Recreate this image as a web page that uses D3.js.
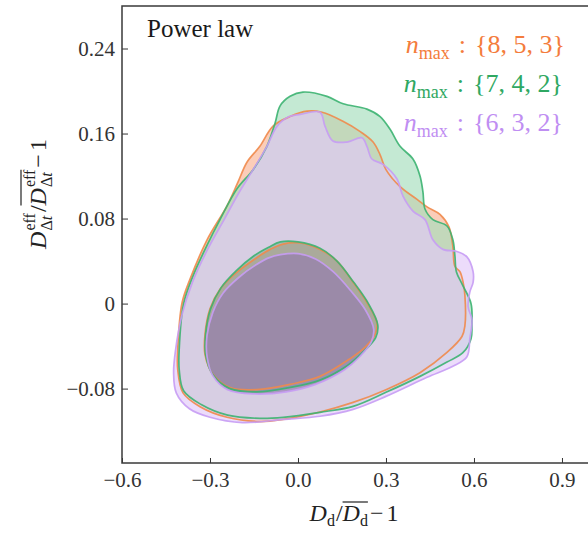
<!DOCTYPE html>
<html>
<head>
<meta charset="utf-8">
<script src="https://cdn.jsdelivr.net/npm/d3@7"></script>
<style>
  html, body { margin: 0; padding: 0; background: #fff; }
  svg { display: block; font-family: "Liberation Serif", "Times New Roman", serif; }
</style>
</head>
<body>
<svg id="chart" width="588" height="534"></svg>
<script>
// ---------------- data ----------------
const xTicks = [-0.6, -0.3, 0.0, 0.3, 0.6, 0.9];
const xTickLabels = ["\u22120.6", "\u22120.3", "0.0", "0.3", "0.6", "0.9"];
const yTicks = [-0.08, 0, 0.08, 0.16, 0.24];
const yTickLabels = ["\u22120.08", "0", "0.08", "0.16", "0.24"];

const seriesNames = ["{8, 5, 3}", "{7, 4, 2}", "{6, 3, 2}"];

// 95% contours (outer) and 68% contours (inner), [x, y] in data units
const orangeOuter = [[-0.027,0.176],[0.031,0.181],[0.082,0.180],[0.15,0.172],[0.211,0.162],[0.256,0.152],[0.28,0.14],[0.30,0.126],[0.348,0.110],[0.406,0.098],[0.44,0.091],[0.484,0.084],[0.515,0.072],[0.528,0.054],[0.535,0.035],[0.552,0.030],[0.563,0.02],[0.569,0.008],[0.569,-0.021],[0.559,-0.031],[0.508,-0.046],[0.416,-0.065],[0.30,-0.081],[0.188,-0.093],[0.075,-0.102],[-0.05,-0.109],[-0.13,-0.111],[-0.242,-0.107],[-0.334,-0.097],[-0.392,-0.084],[-0.41,-0.062],[-0.41,-0.043],[-0.395,0.001],[-0.368,0.023],[-0.31,0.06],[-0.242,0.092],[-0.205,0.114],[-0.174,0.133],[-0.13,0.148],[-0.085,0.167]];
const orangeInner = [[-0.051,0.056],[0.007,0.057],[0.075,0.051],[0.133,0.04],[0.188,0.02],[0.235,0.001],[0.269,-0.018],[0.263,-0.029],[0.229,-0.041],[0.177,-0.052],[0.075,-0.0685],[-0.027,-0.076],[-0.14,-0.081],[-0.232,-0.079],[-0.29,-0.0665],[-0.317,-0.048],[-0.317,-0.029],[-0.3,-0.005],[-0.266,0.0135],[-0.215,0.028],[-0.147,0.042],[-0.095,0.051]];

const greenOuter = [[-0.061,0.186],[-0.027,0.195],[0.017,0.199],[0.099,0.195],[0.154,0.188],[0.235,0.183],[0.28,0.176],[0.314,0.164],[0.348,0.148],[0.392,0.136],[0.416,0.12],[0.426,0.105],[0.433,0.089],[0.46,0.079],[0.508,0.073],[0.528,0.06],[0.535,0.045],[0.54,0.03],[0.56,0.018],[0.59,0.0],[0.593,-0.02],[0.59,-0.033],[0.563,-0.046],[0.508,-0.055],[0.416,-0.0685],[0.30,-0.0835],[0.188,-0.0967],[0.075,-0.1023],[-0.05,-0.107],[-0.13,-0.108],[-0.24,-0.105],[-0.33,-0.095],[-0.39,-0.082],[-0.405,-0.062],[-0.405,-0.043],[-0.39,0.0],[-0.358,0.026],[-0.31,0.055],[-0.266,0.079],[-0.208,0.108],[-0.153,0.126],[-0.106,0.148],[-0.078,0.17]];
const greenInner = [[-0.06,0.058],[0.0,0.058],[0.075,0.052],[0.133,0.04],[0.19,0.02],[0.24,0.0],[0.272,-0.02],[0.265,-0.032],[0.22,-0.046],[0.17,-0.058],[0.075,-0.072],[-0.03,-0.079],[-0.14,-0.083],[-0.232,-0.08],[-0.29,-0.067],[-0.315,-0.048],[-0.315,-0.029],[-0.298,-0.005],[-0.262,0.015],[-0.21,0.031],[-0.15,0.045],[-0.1,0.053]];

const purpleOuter = [[-0.071,0.167],[-0.03,0.176],[0.007,0.178],[0.075,0.18],[0.092,0.167],[0.119,0.153],[0.167,0.152],[0.218,0.156],[0.235,0.148],[0.252,0.136],[0.29,0.131],[0.338,0.117],[0.358,0.101],[0.392,0.087],[0.433,0.079],[0.46,0.06],[0.494,0.051],[0.542,0.049],[0.576,0.044],[0.597,0.030],[0.597,0.02],[0.586,0.011],[0.58,-0.003],[0.593,-0.015],[0.586,-0.033],[0.576,-0.05],[0.528,-0.059],[0.44,-0.0694],[0.30,-0.0873],[0.188,-0.0995],[0.075,-0.106],[-0.05,-0.109],[-0.19,-0.112],[-0.30,-0.107],[-0.37,-0.099],[-0.415,-0.084],[-0.424,-0.065],[-0.418,-0.045],[-0.395,-0.01],[-0.36,0.02],[-0.31,0.05],[-0.25,0.08],[-0.2,0.105],[-0.153,0.126],[-0.106,0.148]];
const purpleInner = [[-0.06,0.046],[0.0,0.047],[0.06,0.042],[0.12,0.03],[0.18,0.012],[0.23,-0.006],[0.258,-0.024],[0.25,-0.036],[0.21,-0.05],[0.16,-0.062],[0.06,-0.076],[-0.04,-0.083],[-0.15,-0.085],[-0.24,-0.081],[-0.29,-0.068],[-0.31,-0.05],[-0.31,-0.03],[-0.29,-0.008],[-0.255,0.01],[-0.2,0.025],[-0.14,0.037],[-0.1,0.043]];

const seriesOuter = [orangeOuter, greenOuter, purpleOuter];
const seriesInner = [orangeInner, greenInner, purpleInner];

// ---------------- styles ----------------
const lineColors = ["#f08a4b", "#3cb371", "#c79cf4"];
const textColors = ["#f47c3c", "#2fa862", "#bf8ef2"];
const outerFill = ["#f9b293", "#a4ddbb", "#e2c9f9"];
const innerFill = ["#f08c5a", "#89ada5", "#9379af"];
const fillOpacity = 0.65;

// ---------------- layout ----------------
const svg = d3.select("#chart");
const x = d3.scaleLinear().domain([-0.6, 1.0]).range([122, 591.3]);
const y = d3.scaleLinear().domain([-0.15, 0.28]).range([463, 6]);

const line = d3.line().x(d => x(d[0])).y(d => y(d[1])).curve(d3.curveCatmullRomClosed.alpha(0.5));

const gOuter = svg.append("g");
const gInner = svg.append("g");
const gLines = svg.append("g");

seriesOuter.forEach((outer, i) => {
  gOuter.append("path")
    .attr("d", line(outer))
    .attr("fill", outerFill[i])
    .attr("fill-opacity", fillOpacity);
  gInner.append("path")
    .attr("d", line(seriesInner[i]))
    .attr("fill", innerFill[i])
    .attr("fill-opacity", fillOpacity);
});
seriesOuter.forEach((outer, i) => {
  [outer, seriesInner[i]].forEach(c => {
    gLines.append("path")
      .attr("d", line(c))
      .attr("fill", "none")
      .attr("stroke", lineColors[i])
      .attr("stroke-width", 1.7)
      .attr("stroke-opacity", 0.9);
  });
});

// axes
const xAxis = d3.axisBottom(x).tickValues(xTicks).tickSize(-5).tickSizeOuter(0).tickPadding(9)
  .tickFormat((d, i) => xTickLabels[i]);
const yAxis = d3.axisLeft(y).tickValues(yTicks).tickSize(-6).tickSizeOuter(0).tickPadding(7)
  .tickFormat((d, i) => yTickLabels[i]);

const gx = svg.append("g").attr("transform", `translate(0,${y.range()[0]})`).call(xAxis);
const gy = svg.append("g").attr("transform", `translate(${x.range()[0]},0)`).call(yAxis);
[gx, gy].forEach(g => {
  g.select(".domain").remove();
  g.selectAll(".tick line").attr("stroke", "#333").attr("stroke-width", 1);
  g.selectAll(".tick text").attr("font-size", 21).attr("fill", "#333")
    .attr("font-family", '"Liberation Serif", "Times New Roman", serif');
});

// frame
svg.append("rect")
  .attr("x", x.range()[0]).attr("y", y.range()[1])
  .attr("width", x.range()[1] - x.range()[0]).attr("height", y.range()[0] - y.range()[1])
  .attr("fill", "none").attr("stroke", "#3a3a3a").attr("stroke-width", 1.5);

// title
svg.append("text").attr("x", 147).attr("y", 37).attr("font-size", 25).attr("fill", "#1a1a1a").text("Power law");

// legend
const legendY = [53, 92, 131];
const legendX = [565, 563, 563];
seriesNames.forEach((name, i) => {
  const t = svg.append("text").attr("x", legendX[i]).attr("y", legendY[i])
    .attr("text-anchor", "end").attr("fill", textColors[i]).attr("font-size", 26);
  t.append("tspan").attr("font-style", "italic").text("n");
  t.append("tspan").attr("font-size", 18).attr("dy", 6).text("max");
  t.append("tspan").attr("dy", -6).attr("dx", 9).text(":");
  t.append("tspan").attr("dx", 9).text(name);
});

// math label helper
function mathLabel(g, parts, baseSize) {
  let maxEnd = 0, prevEnd = 0, anchor = 0;
  let ovS = Infinity, ovE = -Infinity, ovY = 0;
  parts.forEach(p => {
    const size = p.size || baseSize;
    let start;
    if (p.stack) start = anchor;
    else if (p.cont) start = prevEnd;
    else start = maxEnd;
    if (p.anchor) anchor = start;
    start += (p.dx || 0);
    const t = g.append("text")
      .attr("x", start).attr("y", p.dy || 0)
      .attr("font-size", size)
      .attr("font-style", p.it ? "italic" : "normal")
      .attr("fill", "#222")
      .text(p.t);
    const w = t.node().getComputedTextLength();
    const end = start + w;
    prevEnd = end;
    maxEnd = Math.max(maxEnd, end);
    if (p.ov) { ovS = Math.min(ovS, start); ovE = Math.max(ovE, end); ovY = Math.min(ovY, p.ovY); }
  });
  if (ovE > ovS) {
    g.append("line").attr("x1", ovS).attr("x2", ovE).attr("y1", ovY).attr("y2", ovY)
      .attr("stroke", "#222").attr("stroke-width", 1.2);
  }
  return maxEnd;
}

// x label
const gxl = svg.append("g");
const gxlIn = gxl.append("g");
const wx = mathLabel(gxlIn, [
  {t: "D", it: true},
  {t: "d", size: 16, dy: 5},
  {t: "/", dx: 1},
  {t: "D", it: true, ov: true, ovY: -19},
  {t: "d", size: 16, dy: 5, ov: true, ovY: -19},
  {t: "\u2212", dx: 2},
  {t: "1", dx: 3}
], 24);
gxlIn.attr("transform", `translate(${-wx / 2},0)`);
gxl.attr("transform", "translate(354,521)");

// y label
const gyl = svg.append("g");
const gylIn = gyl.append("g");
const wy = mathLabel(gylIn, [
  {t: "D", it: true},
  {t: "eff", size: 16, dy: -11, anchor: true, dx: 1},
  {t: "\u0394", size: 16, dy: 6, stack: true, dx: 1},
  {t: "t", size: 16, dy: 6, it: true, cont: true},
  {t: "/", dx: 1},
  {t: "D", it: true, ov: true, ovY: -25},
  {t: "eff", size: 16, dy: -11, anchor: true, dx: 1, ov: true, ovY: -25},
  {t: "\u0394", size: 16, dy: 6, stack: true, dx: 1, ov: true, ovY: -25},
  {t: "t", size: 16, dy: 6, it: true, cont: true, ov: true, ovY: -25},
  {t: "\u2212", dx: 2},
  {t: "1", dx: 3}
], 24);
gylIn.attr("transform", `translate(${-wy / 2},0)`);
gyl.attr("transform", "translate(46,194) rotate(-90)");
</script>
</body>
</html>
